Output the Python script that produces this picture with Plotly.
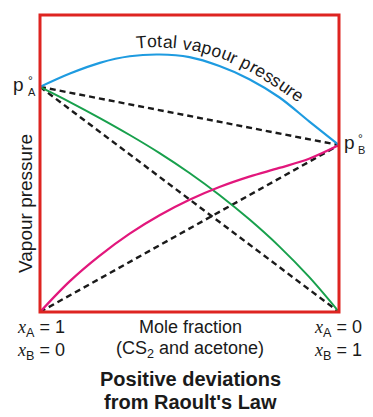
import numpy as np
import plotly.graph_objects as go

# ---- data (mole fraction of B on x, vapour pressure in arbitrary units) ----
x_frac = [0.0, 0.1, 0.2, 0.3, 0.4, 0.5, 0.6, 0.7, 0.8, 0.9, 1.0]
total_vp = [75.8, 80.3, 83.9, 86.1, 86.7, 85.8, 82.8, 78.4, 72.3, 64.2, 56.2]
p_A = [75.8, 70.7, 65.3, 59.6, 53.5, 46.8, 39.4, 31.2, 22.1, 11.8, 0.0]
p_B = [0.0, 10.4, 19.0, 26.4, 32.6, 37.8, 42.1, 45.6, 48.5, 51.6, 56.2]
pA0 = 75.8
pB0 = 56.2
ideal_x = [0.0, 1.0]
ideal_A = [pA0, 0.0]
ideal_B = [0.0, pB0]
ideal_T = [pA0, pB0]

W, H = 373, 417
ML, MR, MT, MB = 40, 34, 15, 105
PW, PH = W - ML - MR, H - MT - MB
YMAX = 100.0

BLUE = "#1E9BE0"
GREEN = "#18A04C"
PINK = "#E2177C"
RED = "#DE2421"
FONT = "Liberation Sans, Arial, sans-serif"

fig = go.Figure()
dash = "6px,4px"
for ys in (ideal_A, ideal_B, ideal_T):
    fig.add_trace(go.Scatter(x=ideal_x, y=ys, mode="lines",
                             line=dict(color="#1a1a1a", width=2.4, dash=dash),
                             cliponaxis=False, hoverinfo="skip"))
fig.add_trace(go.Scatter(x=x_frac, y=p_A, mode="lines",
                         line=dict(color=GREEN, width=2, shape="spline"), cliponaxis=False))
fig.add_trace(go.Scatter(x=x_frac, y=p_B, mode="lines",
                         line=dict(color=PINK, width=2.3, shape="spline"), cliponaxis=False))
fig.add_trace(go.Scatter(x=x_frac, y=total_vp, mode="lines",
                         line=dict(color=BLUE, width=2.2, shape="spline"), cliponaxis=False))

# frame
fig.add_shape(type="rect", xref="paper", yref="paper", x0=0, y0=0, x1=1, y1=1,
              line=dict(color=RED, width=3))

annots = []

def px_ann(text, px, py, size=18, xanchor="center", yanchor="middle", angle=0):
    # place text at a pixel position of the figure
    xp = (px - ML) / PW
    yp = (H - MB - py) / PH
    annots.append(dict(text=text, x=xp, y=yp, xref="paper", yref="paper",
                       showarrow=False, xanchor=xanchor, yanchor=yanchor,
                       textangle=angle,
                       font=dict(family=FONT, size=size, color="#1a1a1a")))

# p°A and p°B
px_ann("p", 26, 84, size=19, xanchor="right")
px_ann("°", 26, 81, size=12, xanchor="left")
px_ann("A", 26, 92, size=11, xanchor="left")
px_ann("p", 357, 142, size=19, xanchor="right")
px_ann("°", 356, 139, size=12, xanchor="left")
px_ann("B", 356, 150, size=11, xanchor="left")

# y label
px_ann("Vapour pressure", 25, 204, size=19, angle=-90)

# bottom labels
xi = "<span style='font-family:Liberation Serif, Times New Roman, serif'><i>x</i></span>"
px_ann(xi + "<sub>A</sub> = 1", 41, 328, size=18)
px_ann(xi + "<sub>B</sub> = 0", 41, 351, size=18)
px_ann(xi + "<sub>A</sub> = 0", 338, 328, size=18)
px_ann(xi + "<sub>B</sub> = 1", 338, 351, size=18)
px_ann("Mole fraction", 190, 327, size=18)
px_ann("(CS<sub>2</sub> and acetone)", 190, 349, size=18)
px_ann("<b>Positive deviations</b>", 190, 379, size=20)
px_ann("<b>from Raoult's Law</b>", 190, 402, size=20)

# curved label "Total vapour pressure" along the total curve
label = "Total vapour pressure"
wtab = {"T": 611, "o": 556, "t": 278, "a": 556, "l": 222, " ": 278, "v": 500,
        "p": 556, "u": 556, "r": 333, "e": 556, "s": 500}
fs = 17.5
coef = np.polyfit(x_frac, total_vp, 5)
xs = np.linspace(0, 1, 2000)
cx = ML + xs * PW
cy = (H - MB) - np.polyval(coef, xs) / YMAX * PH
seg = np.hypot(np.diff(cx), np.diff(cy))
arc = np.concatenate([[0], np.cumsum(seg)])
ang = np.degrees(np.arctan2(np.gradient(cy), np.gradient(cx)))
start_px = 137.0
s = np.interp(start_px, cx, arc)
offset = 13.0
for ch in label:
    w = wtab[ch] / 1000 * fs
    sc = s + w / 2
    bx = np.interp(sc, arc, cx)
    by = np.interp(sc, arc, cy)
    a = np.interp(sc, arc, ang)
    r = np.radians(a)
    tx = bx + offset * np.sin(r)
    ty = by - offset * np.cos(r)
    if ch != " ":
        px_ann(ch, tx, ty, size=fs, angle=a)
    s += w

fig.update_layout(
    width=W, height=H, margin=dict(l=ML, r=MR, t=MT, b=MB),
    paper_bgcolor="white", plot_bgcolor="white", showlegend=False,
    xaxis=dict(range=[0, 1], visible=False, fixedrange=True),
    yaxis=dict(range=[0, YMAX], visible=False, fixedrange=True),
    annotations=annots,
)
fig.write_html("out.html", config={"displayModeBar": False},
               post_script="document.body.style.margin='0';document.body.style.overflow='hidden';")
